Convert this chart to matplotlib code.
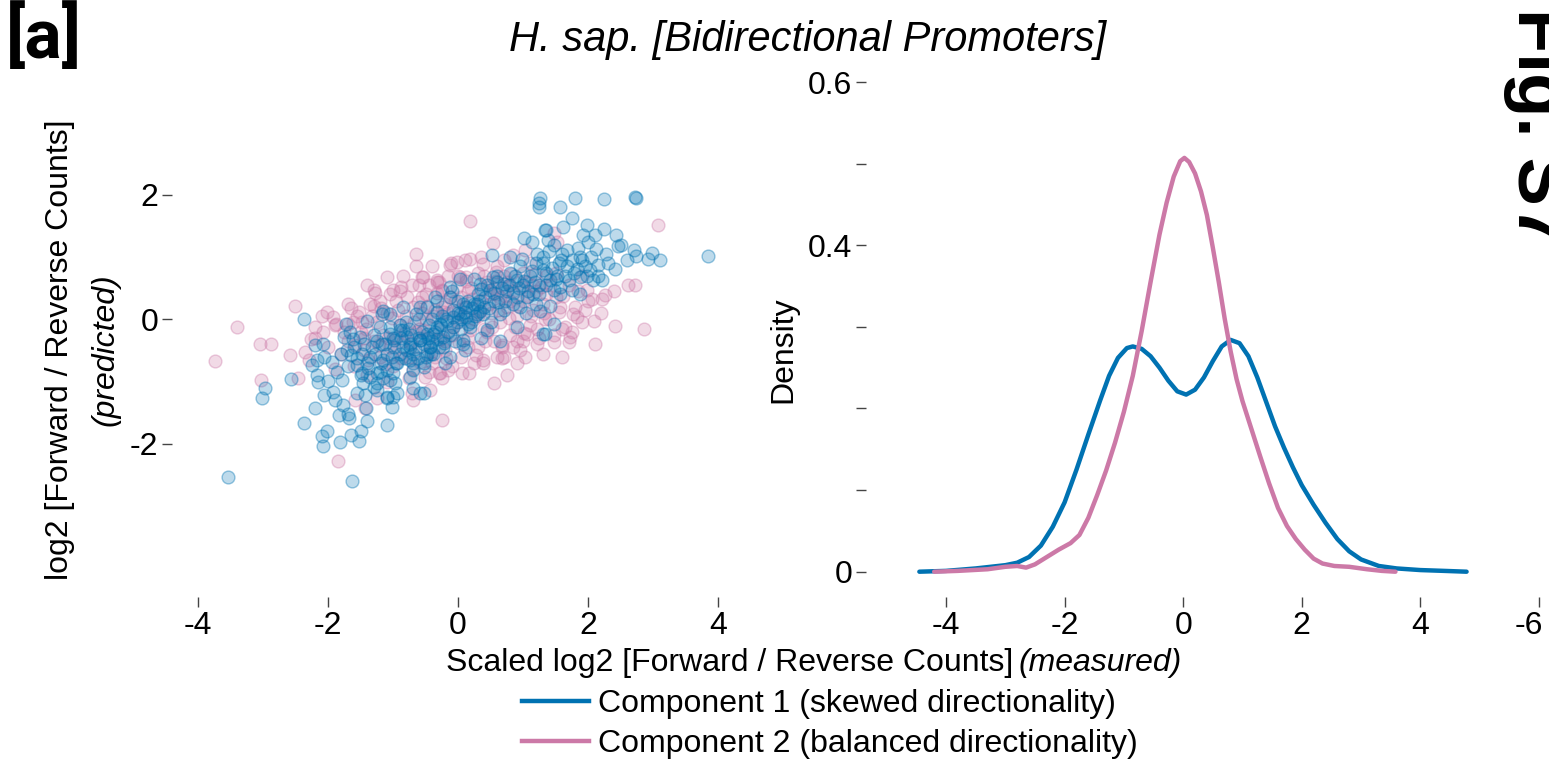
import matplotlib
matplotlib.use("Agg")
import matplotlib.pyplot as plt
from matplotlib.lines import Line2D
from matplotlib.transforms import ScaledTranslation
import numpy as np

plt.rcParams["font.family"] = ["Liberation Sans", "DejaVu Sans"]
plt.rcParams["axes.unicode_minus"] = False

BLUE = "#0072B2"
PINK = "#CC79A7"

# predicted vs measured log2 ratios, component 2 (balanced)
pink_points = [
    (0.18, 1.58), (-0.65, 1.04), (-3.40, -0.12), (-3.74, -0.67), (-3.05, -0.39), (-2.87, -0.40),
    (-2.58, -0.58), (-2.51, 0.22), (-3.03, -0.98), (-2.46, -0.95), (-1.85, -2.28), (-0.24, -1.62),
    (-1.09, 0.68), (-1.65, 0.18), (-2.02, 0.12), (-2.20, -0.12), (-2.08, -0.20), (-2.35, -0.52),
    (-2.26, -0.31), (-1.00, 0.47), (-1.28, 0.42), (-1.29, 0.22), (-0.54, 0.68), (-0.87, 0.52),
    (-0.71, 0.55), (-0.11, 0.90), (-0.02, 0.92), (0.18, 0.96), (0.03, 0.68), (-0.33, 0.63),
    (-0.25, 0.47), (-0.51, -0.93), (-0.43, -1.14), (-0.69, -1.30), (-0.71, -1.19), (-0.30, -0.87),
    (-0.15, -0.82), (0.06, -0.86), (0.17, -0.86), (-1.58, -1.30), (-1.43, -1.43), (-1.25, -1.27),
    (-1.69, -0.07), (-1.48, -0.04), (-1.87, -0.07), (-1.92, 0.04), (0.54, 1.23), (0.55, -1.02),
    (1.03, -0.60), (-0.56, 0.68), (0.39, -0.71), (-0.28, -0.87), (0.70, -0.60), (0.85, -0.44),
    (1.21, -0.39), (1.06, -0.23), (0.67, -0.44), (-1.30, 0.47), (-0.33, 0.60), (-0.12, 0.87),
    (0.13, 0.68), (0.39, 0.89), (0.59, 0.76), (0.70, 0.95), (0.85, 1.03), (1.03, 1.11),
    (3.07, 1.52), (2.61, 0.55), (2.72, 0.55), (2.09, -0.03), (2.41, -0.11), (2.86, -0.16),
    (1.47, -0.37), (1.71, -0.37), (1.75, -0.20), (1.65, -0.12), (1.83, 0.04), (2.06, 0.33),
    (2.26, 0.39), (2.21, 0.33), (1.98, 0.47), (1.77, 0.09), (1.57, 0.20), (1.36, 0.41),
    (1.47, 1.38), (1.52, 1.24), (1.34, 0.01), (0.67, -0.63), (0.39, -0.66),
    (-2.20, -0.30), (-2.00, -0.45), (-1.90, -0.10), (-1.80, -0.55), (-1.70, -0.35), (-1.60, -0.75),
    (-1.55, 0.05), (-1.50, -0.20), (-1.45, -0.50), (-1.40, -0.90), (-1.35, 0.25), (-1.30, -0.35),
    (-1.25, -0.05), (-1.20, -0.60), (-1.15, -0.25), (-1.10, 0.10), (-1.05, -0.45), (-1.00, -0.75),
    (-0.95, 0.30), (-0.90, -0.10), (-0.85, -0.35), (-0.80, 0.05), (-0.75, -0.60), (-0.70, 0.20),
    (-0.65, -0.20), (-0.60, -0.45), (-0.55, 0.35), (-0.50, 0.00), (-0.45, -0.30), (-0.40, -0.70),
    (-0.35, 0.15), (-0.30, -0.15), (-0.25, 0.45), (-0.20, -0.50), (-0.15, 0.10), (-0.10, -0.25),
    (-0.05, 0.30), (0.00, -0.05), (0.05, -0.60), (0.10, 0.20), (0.15, -0.30), (0.20, 0.50),
    (0.25, 0.00), (0.30, -0.45), (0.35, 0.30), (0.40, -0.15), (0.45, 0.60), (0.50, 0.10),
    (0.55, -0.35), (0.60, 0.40), (0.65, -0.05), (0.70, 0.70), (0.75, 0.20), (0.80, -0.25),
    (0.85, 0.45), (0.90, 0.05), (0.95, -0.50), (1.00, 0.30), (1.05, 0.60), (1.10, -0.10),
    (1.15, 0.15), (1.20, 0.45), (1.25, -0.30), (1.30, 0.25), (1.35, 0.70), (1.40, 0.00),
    (1.50, 0.35), (1.60, -0.15), (1.70, 0.55), (1.80, 0.20), (1.90, -0.05), (2.00, 0.30),
    (2.20, 0.10), (2.40, 0.45), (-0.90, 0.45), (-0.60, 0.55), (-0.30, 0.60), (0.00, 0.70),
    (0.30, 0.75), (0.60, 0.85), (-1.20, 0.30), (-0.45, -0.85), (-0.10, -0.75), (0.25, -0.70),
    (0.60, -0.60), (0.90, -0.70), (1.30, -0.55), (-1.70, 0.25), (-2.10, 0.05), (-2.30, -0.65),
    (-1.10, -1.00), (-0.75, -0.95), (0.15, 0.45), (0.45, -0.20), (-0.55, 0.10), (-0.20, 0.25),
    (0.80, 0.55), (1.10, 0.90), (1.50, 0.75), (1.90, 0.70), (2.10, -0.40), (1.60, -0.60),
    (-0.85, 0.70), (-0.40, 0.85), (0.10, 0.95), (-1.40, 0.55), (-1.90, -0.80), (0.35, 1.00),
    (0.75, -0.90), (1.00, -0.35), (-0.25, -0.95), (-0.65, 0.85),
    (-1.75, -0.20), (-1.62, -0.05), (-1.58, -0.42), (-1.52, 0.12), (-1.42, -0.15), (-1.38, -0.65),
    (-1.32, 0.05), (-1.22, -0.42), (-1.18, 0.18), (-1.12, -0.72), (-1.08, -0.30), (-1.02, 0.02),
    (-0.98, -0.52), (-0.92, 0.15), (-0.88, -0.62), (-0.82, -0.22), (-0.78, 0.35), (-0.72, -0.38),
    (-0.68, -0.05), (-0.62, 0.28), (-0.58, -0.68), (-0.52, -0.18), (-0.48, 0.22), (-0.42, -0.52),
    (-0.38, 0.05), (-0.32, 0.42), (-0.28, -0.32), (-0.22, 0.12), (-0.18, -0.62), (-0.12, 0.35),
    (-0.08, -0.12), (-0.02, 0.52), (0.02, -0.38), (0.08, 0.05), (0.12, 0.62), (0.18, -0.18),
    (0.22, 0.32), (0.28, -0.58), (0.32, 0.12), (0.38, 0.48), (0.42, -0.35), (0.48, 0.25),
    (0.52, -0.12), (0.58, 0.62), (0.62, 0.15), (0.68, -0.42), (0.72, 0.38), (0.78, 0.02),
    (0.82, 0.72), (0.88, -0.12), (0.92, 0.22), (0.98, 0.52), (1.02, -0.22), (1.08, 0.38),
    (1.12, 0.05), (1.18, 0.72), (1.22, -0.15), (1.28, 0.52), (1.32, 0.10), (1.42, 0.55),
    (1.48, -0.25), (1.55, 0.12), (1.62, 0.38), (1.72, -0.28), (1.85, 0.45), (1.95, 0.15),
    (-0.95, -0.30), (-0.45, 0.55), (0.05, 0.35), (0.55, 0.50), (-0.70, -0.80), (-0.20, -0.35),
    (0.30, 0.05), (0.80, 0.30), (-1.45, -0.30), (-0.15, 0.70), (0.40, 0.70), (1.00, 0.75),
    (-0.60, -0.15), (0.15, -0.45), (0.65, 0.35), (-1.05, 0.40), (-0.35, -0.60), (1.15, 0.55),
    (0.90, -0.35), (-0.50, 0.40), (0.00, 0.15), (0.50, 0.40), (-0.25, 0.20), (0.75, 0.60),
]

# component 1 (skewed)
blue_points = [
    (-3.54, -2.53), (-1.63, -2.60), (-2.37, 0.00), (-2.97, -1.11), (-3.01, -1.27), (-2.57, -0.96),
    (-2.20, -0.42), (-2.08, -0.39), (-2.25, -0.74), (-2.17, -0.66), (-2.06, -0.60), (-1.94, -0.69),
    (-2.17, -0.90), (-2.15, -1.01), (-2.00, -0.99), (-1.79, -0.97), (-1.86, -0.85), (-2.20, -1.42),
    (-2.37, -1.66), (-2.06, -1.22), (-1.92, -1.17), (-1.89, -1.29), (-1.77, -1.38), (-1.83, -1.53),
    (-1.69, -1.52), (-1.68, -1.58), (-2.02, -1.79), (-2.09, -1.88), (-2.07, -2.03), (-1.81, -1.97),
    (-1.64, -1.86), (-1.50, -1.79), (-1.53, -1.95), (-1.40, -1.64), (-1.09, -1.70), (-1.42, -1.43),
    (-1.02, -1.41), (-1.10, -1.27), (-0.94, -1.18), (-0.69, -1.11), (-0.53, -1.19),
    (-1.72, -0.08), (-1.66, -0.20), (-1.76, -0.28), (-1.61, -0.31), (-1.51, -0.28), (-1.71, -0.50),
    (-1.64, -0.58), (-1.48, -0.55), (-1.56, -0.74), (-1.40, -0.71), (-1.48, -0.87), (-1.35, -0.93),
    (-1.46, -1.03), (-1.30, -1.09), (-1.56, -1.19), (-1.43, -1.22), (-1.25, -1.14), (-1.15, -0.95),
    (-1.17, 0.09), (-1.05, 0.09), (-1.40, -0.02), (-1.20, -0.12), (-1.05, -0.23), (-0.89, -0.18),
    (-1.17, -0.39), (-0.99, -0.34), (-1.33, -0.44),
    (-1.00, -0.87), (-0.97, -1.03), (-1.10, -0.82), (-0.89, -0.55), (-0.74, -0.44), (-0.69, -0.71),
    (-0.58, -0.34), (-0.48, -0.23), (-0.43, -0.44), (-0.33, -0.12), (-0.23, -0.28), (-0.17, -0.02),
    (-0.07, -0.12), (0.03, 0.09), (0.13, 0.20), (0.24, 0.25), (0.29, 0.09), (0.08, -0.39),
    (-0.12, -0.60), (-0.38, -0.55), (-0.53, -0.77), (-0.74, -0.93), (-0.79, -0.28), (-0.64, 0.09),
    (-0.48, 0.20), (-0.33, 0.12), (-0.12, 0.52), (0.03, 0.65),
    (1.25, 1.80), (1.24, 1.87), (1.02, 1.31), (1.14, 1.24), (1.34, 1.44), (0.52, 1.03),
    (0.80, 1.00), (0.98, 0.97), (1.21, 1.05), (0.54, 0.68), (0.70, 0.57), (0.90, 0.63),
    (-0.33, 0.30), (-0.12, 0.36), (0.08, 0.25), (0.29, 0.25), (0.49, 0.47), (0.34, 0.57),
    (-0.58, 0.20), (-0.84, 0.20), (-1.15, 0.14), (-1.05, -0.12), (-0.84, -0.18), (-0.74, -0.39),
    (-0.58, -0.34), (-0.38, -0.23), (-0.28, -0.07), (-0.07, 0.04), (0.13, 0.04), (0.34, 0.14),
    (0.65, 0.09), (0.85, 0.25), (1.06, 0.36), (1.26, 0.14), (1.31, -0.23), (0.90, -0.12),
    (0.44, -0.18), (0.08, -0.34), (-0.23, -0.44), (-0.48, -0.55), (-0.74, -0.66), (-0.94, -0.71),
    (-1.15, -0.66), (-1.25, -0.87), (-1.05, -0.98), (-1.00, -1.25), (-0.58, -1.19), (-0.53, -0.71),
    (-1.10, -1.25), (-1.25, -1.03), (-0.69, -0.82), (-0.43, -0.44), (0.18, -0.12),
    (2.73, 1.97), (2.74, 1.95), (2.25, 1.93), (1.80, 1.94), (1.57, 1.80), (1.26, 1.94),
    (1.75, 1.62), (1.99, 1.52), (2.25, 1.45), (1.62, 1.48), (1.36, 1.44), (1.93, 1.35),
    (2.11, 1.36), (2.43, 1.36), (2.46, 1.18), (1.39, 1.28), (1.47, 1.19), (1.67, 1.12),
    (2.00, 1.24), (2.13, 1.13), (2.28, 1.05), (2.71, 1.11), (2.74, 1.01), (2.98, 1.06),
    (2.93, 0.97), (3.11, 0.95), (3.84, 1.01), (2.42, 0.81), (1.90, 0.95), (1.83, 0.81),
    (2.03, 0.79), (2.16, 0.87), (2.21, 0.63), (2.08, 0.63), (1.88, 0.68), (1.70, 0.63),
    (1.57, 0.52), (1.42, 0.63), (1.31, 0.79), (1.31, 1.00), (1.47, 0.47), (1.57, 0.41),
    (1.75, 0.47), (1.88, 0.41), (1.42, 0.22), (1.47, -0.07), (1.34, -0.23),
    (-1.80, -0.55), (-1.60, -0.45), (-1.50, -0.90), (-1.35, -0.60), (-1.25, -0.35), (-1.10, -0.55),
    (-1.00, -0.30), (-0.95, -0.70), (-0.85, -0.45), (-0.75, -0.15), (-0.70, -0.55), (-0.60, -0.30),
    (-0.50, -0.60), (-0.45, -0.10), (-0.40, -0.35), (-0.30, -0.45), (-0.25, 0.05), (-0.15, -0.20),
    (-0.05, -0.35), (0.00, 0.10), (0.05, -0.15), (0.15, 0.30), (0.20, -0.05), (0.30, 0.40),
    (0.40, 0.20), (0.45, 0.55), (0.50, -0.05), (0.55, 0.30), (0.60, 0.60), (0.70, 0.15),
    (0.75, 0.45), (0.80, 0.75), (0.90, 0.35), (0.95, 0.85), (1.00, 0.55), (1.05, 0.10),
    (1.10, 0.70), (1.15, 0.40), (1.20, 0.90), (1.25, 0.55), (1.35, 0.75), (1.40, 1.10),
    (1.50, 0.65), (1.55, 0.90), (1.60, 1.05), (1.65, 0.70), (1.75, 0.95), (1.85, 1.15),
    (1.95, 0.85), (2.05, 1.00), (2.15, 0.70), (2.30, 0.90), (2.50, 1.20), (2.60, 0.95),
    (-0.35, 0.35), (-0.10, 0.45), (0.25, 0.65), (-0.60, 0.00), (-0.90, -0.10), (-1.20, -0.85),
    (-0.20, -0.70), (0.10, -0.50), (0.35, -0.30), (0.65, -0.35),
    (-1.70, -0.75), (-1.55, -0.62), (-1.45, -0.40), (-1.38, -0.78), (-1.28, -0.55), (-1.18, -0.70),
    (-1.12, -0.40), (-1.02, -0.60), (-0.98, -0.45), (-0.88, -0.30), (-0.82, -0.62), (-0.78, -0.50),
    (-0.72, -0.25), (-0.66, -0.48), (-0.62, -0.62), (-0.56, -0.20), (-0.52, -0.40), (-0.46, -0.30),
    (-0.42, -0.55), (-0.36, -0.20), (-0.32, -0.32), (-0.26, -0.10), (-0.22, -0.38), (-0.18, 0.00),
    (-0.12, -0.25), (-0.08, 0.15), (-0.02, -0.05), (0.04, 0.00), (0.10, 0.12), (0.16, -0.08),
    (0.22, 0.18), (0.26, 0.05), (0.32, 0.30), (0.38, 0.08), (0.42, 0.35), (0.48, 0.18),
    (0.56, 0.42), (0.62, 0.28), (0.68, 0.50), (0.72, 0.30), (0.78, 0.55), (0.84, 0.42),
    (0.88, 0.70), (0.94, 0.50), (1.02, 0.62), (1.08, 0.45), (1.14, 0.78), (1.18, 0.60),
    (1.24, 0.40), (1.30, 0.90), (1.36, 0.55), (1.44, 0.82), (1.52, 0.70), (1.58, 0.95),
    (1.68, 0.85), (1.78, 0.75), (1.88, 1.00), (1.98, 0.70), (0.60, 0.70), (0.35, 0.48),
    (0.00, 0.30), (-0.40, 0.00), (-0.80, -0.05), (-1.30, -0.25), (0.95, 0.20), (1.20, 0.25),
]

# mixture component densities
comp1_x = [-4.45, -4.0, -3.5, -3.0, -2.8, -2.6, -2.4, -2.2, -2.0, -1.8, -1.6, -1.4, -1.25,
           -1.1, -0.95, -0.85, -0.7, -0.55, -0.4, -0.25, -0.1, 0.05, 0.2, 0.35, 0.5, 0.65,
           0.8, 0.95, 1.1, 1.25, 1.4, 1.55, 1.7, 1.85, 2.0, 2.2, 2.4, 2.6, 2.8, 3.0, 3.3,
           3.6, 4.0, 4.4, 4.78]
comp1_y = [0.0, 0.001, 0.004, 0.008, 0.011, 0.018, 0.032, 0.055, 0.085, 0.125, 0.168, 0.210,
           0.240, 0.262, 0.274, 0.276, 0.273, 0.264, 0.250, 0.234, 0.221, 0.217, 0.223, 0.238,
           0.258, 0.276, 0.284, 0.280, 0.264, 0.238, 0.208, 0.178, 0.152, 0.128, 0.106, 0.082,
           0.060, 0.040, 0.025, 0.015, 0.007, 0.004, 0.002, 0.001, 0.0]
comp2_x = [-4.2, -3.8, -3.3, -3.0, -2.8, -2.65, -2.5, -2.3, -2.1, -1.9, -1.75, -1.6, -1.45,
           -1.3, -1.15, -1.0, -0.85, -0.7, -0.55, -0.4, -0.28, -0.16, -0.05, 0.02, 0.1, 0.2,
           0.3, 0.4, 0.5, 0.6, 0.7, 0.8, 0.9, 1.0, 1.15, 1.3, 1.45, 1.6, 1.75, 1.9, 2.05,
           2.2, 2.35, 2.55, 2.8, 3.1, 3.35, 3.58]
comp2_y = [0.0, 0.001, 0.003, 0.006, 0.007, 0.005, 0.009, 0.018, 0.027, 0.035, 0.045, 0.066,
           0.094, 0.124, 0.158, 0.196, 0.240, 0.295, 0.355, 0.413, 0.452, 0.484, 0.503, 0.507,
           0.502, 0.488, 0.466, 0.437, 0.397, 0.355, 0.310, 0.270, 0.236, 0.209, 0.175, 0.141,
           0.108, 0.078, 0.056, 0.040, 0.027, 0.016, 0.010, 0.007, 0.006, 0.003, 0.001, 0.0]

legend_labels = ["Component 1 (skewed directionality)", "Component 2 (balanced directionality)"]

W, H = 1549, 764
FS = 23
fig = plt.figure(figsize=(W / 100, H / 100), dpi=100)


def box(left, top, right, bottom):
    return [left / W, 1 - bottom / H, (right - left) / W, (bottom - top) / H]


def style(ax):
    for s in ax.spines.values():
        s.set_visible(False)
    ax.tick_params(length=7, width=1, color="#444444", labelsize=FS, pad=3)


# scatter panel
ax1 = fig.add_axes(box(172, 82, 744, 597))
pink = np.array(pink_points)
blue = np.array(blue_points)
ax1.scatter(pink[:, 0], pink[:, 1], s=85, facecolor=(0.80, 0.47, 0.65, 0.27),
            edgecolor=(0.80, 0.47, 0.65, 0.38), linewidth=1)
ax1.scatter(blue[:, 0], blue[:, 1], s=85, facecolor=(0.0, 0.45, 0.70, 0.26),
            edgecolor=(0.0, 0.45, 0.70, 0.40), linewidth=1)
ax1.set_xlim(-4.4, 4.4)
ax1.set_ylim(-4.46, 3.81)
ax1.set_xticks([-4, -2, 0, 2, 4])
ax1.set_yticks([-2, 0, 2])
style(ax1)

# density panel
ax2 = fig.add_axes(box(866, 82, 1549, 597))
ax2.plot(comp1_x, comp1_y, color=BLUE, lw=3.2, solid_capstyle="round", solid_joinstyle="round")
ax2.plot(comp2_x, comp2_y, color=PINK, lw=3.2, solid_capstyle="round", solid_joinstyle="round")
ax2.set_xlim(-5.35, 6.17)
ax2.set_ylim(-0.031, 0.6)
ax2.set_xticks([-4, -2, 0, 2, 4, 6])
ax2.set_xticklabels(["-4", "-2", "0", "2", "4", "-6"])
ax2.set_yticks([0, 0.1, 0.2, 0.3, 0.4, 0.5, 0.6])
ax2.set_yticklabels(["0", "", "", "", "0.4", "", "0.6"])
style(ax2)
# last label sits against the figure edge, nudge it inward
last = ax2.get_xticklabels()[-1]
last.set_transform(last.get_transform() + ScaledTranslation(-10 / 100, 0, fig.dpi_scale_trans))

fig.text(808 / W, 1 - 40 / H, "H. sap. [Bidirectional Promoters]", fontsize=30,
         style="italic", ha="center", va="center")
fig.text(60 / W, 1 - 350 / H, "log2 [Forward / Reverse Counts]", fontsize=FS,
         rotation=90, ha="center", va="center")
fig.text(105 / W, 1 - 350 / H, "(predicted)", fontsize=FS, style="italic",
         rotation=90, ha="center", va="center")
fig.text(783 / W, 1 - 350 / H, "Density", fontsize=FS, rotation=90, ha="center", va="center")
fig.text(1013 / W, 1 - 663 / H, "Scaled log2 [Forward / Reverse Counts]", fontsize=FS,
         ha="right", va="center")
fig.text(1019 / W, 1 - 663 / H, "(measured)", fontsize=FS, style="italic",
         ha="left", va="center")

fig.text(6 / W, 1 - 38 / H, "[a]", fontsize=50, fontweight="bold", family="Roboto",
         ha="left", va="center")
fig.text(1503 / W, 1 - 8 / H, "Fig. S7", fontsize=52, fontweight="bold", rotation=-90,
         ha="left", va="top")

handles = [Line2D([], [], color=BLUE, lw=3.2), Line2D([], [], color=PINK, lw=3.2)]
fig.legend(handles, legend_labels, loc="center", bbox_to_anchor=(830 / W, 1 - 724 / H),
           frameon=False, fontsize=FS, handlelength=2.1, handletextpad=0.3,
           labelspacing=0.3)

fig.savefig("out.png", dpi=100)
